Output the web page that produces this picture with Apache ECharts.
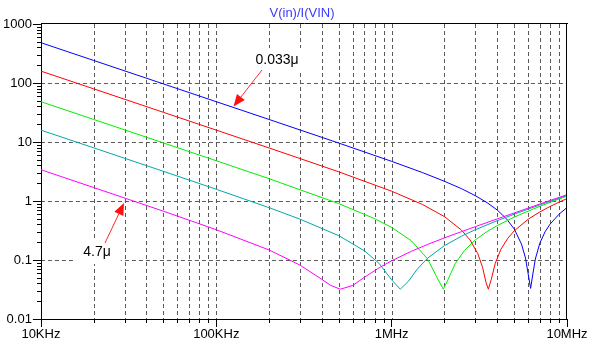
<!DOCTYPE html>
<html>
<head>
<meta charset="utf-8">
<script src="https://cdn.jsdelivr.net/npm/echarts@6/dist/echarts.min.js"></script>
<style>html,body{margin:0;padding:0;background:#fff}#c{width:592px;height:347px}</style>
</head>
<body>
<div id="c"></div>
<script>
// ---- data (frequency in Hz, |Z| in ohms) ----
const xTickLabels = ['10KHz', '100KHz', '1MHz', '10MHz'];
const yTickLabels = ['0.01', '0.1', '1', '10', '100', '1000'];
const minorMultiples = [2, 3, 4, 5, 6, 7, 8, 9];

const cap033n = [[1e4,482],[2e4,241],[5e4,96.4],[1e5,48.2],[2e5,24.1],[5e5,9.58],[1e6,4.70],[1.5e6,3.03],[2e6,2.16],[2.5e6,1.62],[3e6,1.23],[3.5e6,0.938],[4e6,0.703],[4.5e6,0.506],[5e6,0.336],[5.5e6,0.186],[5.8e6,0.108],[6.0e6,0.059],[6.2e6,0.033],[6.4e6,0.060],[6.6e6,0.104],[7e6,0.193],[7.5e6,0.301],[8e6,0.404],[9e6,0.596],[1e7,0.775]];
const cap100n = [[1e4,159],[2e4,79.6],[5e4,31.8],[1e5,15.9],[2e5,7.93],[5e5,3.12],[1e6,1.466],[1.5e6,0.873],[2e6,0.544],[2.5e6,0.322],[2.8e6,0.219],[3.1e6,0.128],[3.3e6,0.075],[3.45e6,0.042],[3.56e6,0.032],[3.7e6,0.047],[3.9e6,0.088],[4.2e6,0.152],[4.6e6,0.234],[5e6,0.312],[6e6,0.490],[7e6,0.653],[8e6,0.807],[9e6,0.955],[1e7,1.098]];
const cap330n = [[1e4,48.2],[2e4,24.1],[5e4,9.64],[1e5,4.81],[2e5,2.39],[5e5,0.902],[8e5,0.502],[1e6,0.357],[1.3e6,0.210],[1.6e6,0.105],[1.8e6,0.053],[1.97e6,0.032],[2.1e6,0.047],[2.3e6,0.086],[2.6e6,0.145],[3e6,0.219],[3.5e6,0.304],[4e6,0.383],[5e6,0.533],[6e6,0.674],[7e6,0.812],[8e6,0.946],[9e6,1.078],[1e7,1.209]];
const cap1u = [[1e4,15.9],[2e4,7.96],[5e4,3.18],[1e5,1.58],[2e5,0.771],[3e5,0.493],[5e5,0.258],[7e5,0.143],[8.5e5,0.087],[1e6,0.046],[1.12e6,0.032],[1.25e6,0.044],[1.4e6,0.070],[1.6e6,0.107],[2e6,0.175],[2.5e6,0.253],[3e6,0.326],[4e6,0.464],[5e6,0.597],[6e6,0.728],[7e6,0.858],[8e6,0.986],[9e6,1.114],[1e7,1.241]];
const cap4u7 = [[1e4,3.39],[2e4,1.69],[5e4,0.671],[1e5,0.326],[2e5,0.148],[3e5,0.082],[4e5,0.047],[4.5e5,0.037],[5.1e5,0.032],[6e5,0.037],[7e5,0.051],[8.5e5,0.074],[1e6,0.097],[1.3e6,0.141],[1.6e6,0.183],[2e6,0.237],[2.5e6,0.302],[3e6,0.367],[4e6,0.497],[5e6,0.627],[6e6,0.757],[7e6,0.888],[8e6,1.02],[9e6,1.15],[1e7,1.28]];

const xDecades = [1e4, 1e5, 1e6, 1e7];
const yDecades = [0.01, 0.1, 1, 10, 100, 1000];

// ---- build ----
function minorValues(decades) {
  const out = [];
  for (let i = 0; i < decades.length - 1; i++) {
    for (const m of minorMultiples) out.push(decades[i] * m);
  }
  return out;
}
const xMinor = minorValues(xDecades);
const yMinor = minorValues(yDecades);
const xGrid = xDecades.slice(1, -1).concat(xMinor);

const FONT = "'Liberation Sans', Arial, sans-serif";
const DASH_COLOR = '#5a5a5a';

function labelFor(v, decades, labels) {
  const idx = decades.findIndex(d => Math.abs(Math.log10(d) - Math.log10(v)) < 1e-6);
  return idx >= 0 ? labels[idx] : '';
}

function arrow(x1, y1, x2, y2) {
  const dx = x2 - x1, dy = y2 - y1, L = Math.hypot(dx, dy);
  const ux = dx / L, uy = dy / L, nx = -uy, ny = ux;
  const hl = 12, hw = 5;
  const bx = x2 - ux * hl, by = y2 - uy * hl;
  return [
    { type: 'line', shape: { x1, y1, x2: bx, y2: by }, style: { stroke: '#ff2a2a', lineWidth: 1 }, z: 100 },
    { type: 'polygon', shape: { points: [[x2, y2], [bx + nx * hw, by + ny * hw], [bx - nx * hw, by - ny * hw]] }, style: { fill: '#ff1010' }, z: 100 }
  ];
}

const chart = echarts.init(document.getElementById('c'), null, { renderer: 'canvas' });
const mk = (name, data, color) => ({
  name, type: 'line', data, showSymbol: false, symbol: 'none', smooth: false,
  lineStyle: { color, width: 1 }, z: 10, animation: false
});

chart.setOption({
  animation: false,
  backgroundColor: '#fff',
  grid: { left: 39, top: 24, width: 528, height: 295, show: false },
  xAxis: { type: 'log', logBase: 10, min: 1e4, max: 1e7, position: 'bottom',
    axisLine: { show: true, onZero: false, lineStyle: { color: '#000', width: 1 } },
    axisTick: { show: true, length: 8, lineStyle: { color: '#000' } },
    minorTick: { show: false }, minorSplitLine: { show: false },
    axisLabel: { show: true, margin: 9, color: '#000', fontSize: 13, fontFamily: FONT, showMinLabel: true, showMaxLabel: true,
      formatter: v => labelFor(v, xDecades, xTickLabels) },
    splitLine: { show: false } },
  yAxis: { type: 'log', logBase: 10, min: 0.01, max: 1000, position: 'left',
    axisLine: { show: true, onZero: false, lineStyle: { color: '#000', width: 1 } },
    axisTick: { show: true, length: 8, lineStyle: { color: '#000' } },
    minorTick: { show: false }, minorSplitLine: { show: false },
    axisLabel: { show: true, margin: 9, color: '#000', fontSize: 13, fontFamily: FONT, showMinLabel: true, showMaxLabel: true,
      formatter: v => labelFor(v, yDecades, yTickLabels) },
    splitLine: { show: true, showMinLine: false, showMaxLine: false, lineStyle: { color: DASH_COLOR, width: 1, type: [4, 3] } } },
  series: [
    mk('0.033u', cap033n, '#0000ff'),
    mk('0.1u', cap100n, '#ff0000'),
    mk('0.33u', cap330n, '#00ee00'),
    mk('1u', cap1u, '#00a8a8'),
    mk('4.7u', cap4u7, '#ff00ff')
  ]
});

// grid lines, frame and minor ticks placed through the axes' own scales
const px = v => chart.convertToPixel({ xAxisIndex: 0 }, v);
const py = v => chart.convertToPixel({ yAxisIndex: 0 }, v);
const crisp = p => Math.round(p) + 0.5;
const yTop = py(1000), yBot = py(0.01), xLeft = px(1e4), xRight = px(1e7);
const g = [];
xGrid.forEach(v => {
  const x = crisp(px(v));
  g.push({ type: 'line', silent: true, shape: { x1: x, y1: yTop, x2: x, y2: yBot }, style: { stroke: DASH_COLOR, lineWidth: 1, lineDash: [4, 3] }, z: 1 });
});
xMinor.forEach(v => {
  const x = crisp(px(v));
  g.push({ type: 'line', silent: true, shape: { x1: x, y1: Math.round(yBot), x2: x, y2: Math.round(yBot) + 4 }, style: { stroke: '#000', lineWidth: 1 }, z: 5 });
});
yMinor.forEach(v => {
  const y = crisp(py(v));
  g.push({ type: 'line', silent: true, shape: { x1: Math.round(xLeft) - 4, y1: y, x2: Math.round(xLeft), y2: y }, style: { stroke: '#000', lineWidth: 1 }, z: 5 });
});
// top and right frame edges
g.push(
  { type: 'line', silent: true, shape: { x1: Math.round(xLeft), y1: crisp(yTop) - 1, x2: Math.round(xRight) + 1, y2: crisp(yTop) - 1 }, style: { stroke: '#000', lineWidth: 1 }, z: 50 },
  { type: 'line', silent: true, shape: { x1: crisp(xRight) - 1, y1: Math.round(yTop) - 1, x2: crisp(xRight) - 1, y2: Math.round(yBot) }, style: { stroke: '#000', lineWidth: 1 }, z: 50 }
);
g.push(
  { type: 'text', x: 302, y: 13, style: { text: 'V(in)/I(VIN)', fill: '#3a3aff', font: "13px " + FONT, textAlign: 'center', textVerticalAlign: 'middle' }, z: 100 },
  { type: 'text', x: 277, y: 60, style: { text: '0.033\u03bc', fill: '#000', font: "14px " + FONT, textAlign: 'center', textVerticalAlign: 'middle', backgroundColor: '#fff', padding: [5, 8] }, z: 90 },
  { type: 'text', x: 97, y: 252, style: { text: '4.7\u03bc', fill: '#000', font: "14px " + FONT, textAlign: 'center', textVerticalAlign: 'middle', backgroundColor: '#fff', padding: [5, 10] }, z: 90 },
  ...arrow(262, 70, 233.5, 106.5),
  ...arrow(105, 243, 124, 203)
);
chart.setOption({ graphic: g });
</script>
</body>
</html>
